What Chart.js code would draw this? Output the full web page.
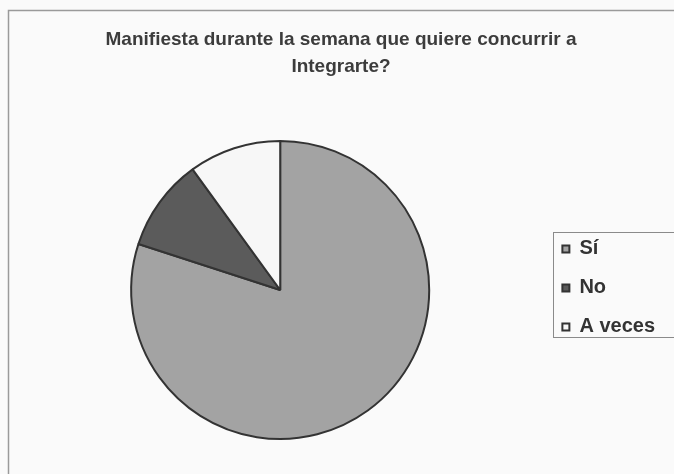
<!DOCTYPE html>
<html>
<head>
<meta charset="utf-8">
<script src="https://cdn.jsdelivr.net/npm/chart.js@4"></script>
<style>
  html, body { margin: 0; padding: 0; background: #fafafa; }
  #wrap { width: 674px; height: 474px; }
</style>
</head>
<body>
<div id="wrap"><canvas id="grafico"></canvas></div>
<script>
const categorias = ["Sí", "No", "A veces"];
const valores = [80, 10, 10];
const colores = ["#a3a3a3", "#5b5b5b", "#f7f7f7"];
const titulo = ["Manifiesta durante la semana que quiere concurrir a", "Integrarte?"];

// marco del grafico (solo arriba e izquierda se ven en la imagen)
const marco = {
  id: "marco",
  afterLayout(chart) {
    // la leyenda va centrada con la torta, no con todo el canvas
    const area = chart.chartArea;
    chart.legend.top = area.top - 2;
    chart.legend.bottom = area.bottom - 2;
  },
  beforeDraw(chart) {
    const ctx = chart.ctx;
    ctx.save();
    ctx.fillStyle = "#fafafa";
    ctx.fillRect(0, 0, chart.width, chart.height);
    ctx.strokeStyle = "#9a9a9a";
    ctx.lineWidth = 1.5;
    ctx.beginPath();
    ctx.moveTo(8.5, chart.height);
    ctx.lineTo(8.5, 10.5);
    ctx.lineTo(chart.width, 10.5);
    ctx.stroke();
    ctx.restore();
  },
  afterDraw(chart) {
    // caja de la leyenda
    const cajas = chart.legend.legendHitBoxes;
    if (!cajas || !cajas.length) return;
    const izq = Math.min(...cajas.map(b => b.left)) - 9;
    const arriba = Math.min(...cajas.map(b => b.top)) - 7;
    const abajo = Math.max(...cajas.map(b => b.top + b.height)) + 0;
    const ctx = chart.ctx;
    ctx.save();
    ctx.strokeStyle = "#8a8a8a";
    ctx.lineWidth = 1;
    ctx.strokeRect(Math.round(izq) + 0.5, Math.round(arriba) + 0.5, chart.width - izq + 5, abajo - arriba);
    ctx.restore();
  }
};

new Chart(document.getElementById("grafico"), {
  type: "pie",
  data: {
    labels: categorias,
    datasets: [{
      data: valores,
      backgroundColor: colores,
      borderColor: "#333333",
      borderWidth: 2
    }]
  },
  options: {
    responsive: true,
    maintainAspectRatio: false,
    animation: false,
    layout: { padding: { top: 0, bottom: 34, left: 17, right: 9 } },
    plugins: {
      tooltip: { enabled: false },
      title: {
        display: true,
        text: titulo,
        color: "#3c3c3c",
        font: { family: "Liberation Sans, Arial, sans-serif", size: 19, weight: "bold", lineHeight: 1.42 },
        padding: { top: 26.5, bottom: 59.5 }
      },
      legend: {
        position: "right",
        labels: {
          color: "#333333",
          font: { family: "Liberation Sans, Arial, sans-serif", size: 20, weight: "bold" },
          boxWidth: 7,
          boxHeight: 7,
          padding: 19
        }
      }
    }
  },
  plugins: [marco]
});
</script>
</body>
</html>
